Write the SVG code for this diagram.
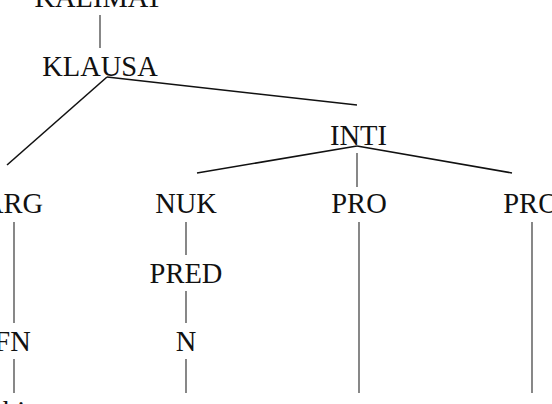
<svg xmlns="http://www.w3.org/2000/svg" width="552" height="404" viewBox="0 0 552 404">
<style>
text{font-family:"Liberation Serif","Times New Roman",serif;font-size:28.5px;fill:#111;text-anchor:middle}
.d{stroke:#111;stroke-width:1.6;fill:none}
.v{stroke:#555;stroke-width:1.4;fill:none}
</style>
<rect width="552" height="404" fill="#fff"/>
<g id="connectors">
<line class="v" x1="100" y1="15" x2="100" y2="48"/>
<line class="d" x1="107" y1="77" x2="7" y2="165"/>
<line class="d" x1="107" y1="77" x2="357" y2="105"/>
<line class="d" x1="357" y1="146" x2="197" y2="173"/>
<line class="d" x1="357" y1="146" x2="512" y2="173"/>
<line class="v" x1="357" y1="153" x2="357" y2="187"/>
<line class="v" x1="14" y1="222" x2="14" y2="323"/>
<line class="v" x1="186" y1="222" x2="186" y2="255"/>
<line class="v" x1="186" y1="291" x2="186" y2="323"/>
<line class="v" x1="14" y1="359" x2="14" y2="393"/>
<line class="v" x1="186" y1="359" x2="186" y2="393"/>
<line class="v" x1="359" y1="222" x2="359" y2="393"/>
<line class="v" x1="532" y1="222" x2="532" y2="393"/>
</g>
<g id="kalimat"><text x="98.5" y="7">KALIMAT</text></g>
<g id="klausa"><text x="100" y="76">KLAUSA</text></g>
<g id="inti"><text x="358.5" y="145">INTI</text></g>
<g id="arg"><text x="13" y="213">ARG</text></g>
<g id="nuk"><text x="186" y="213">NUK</text></g>
<g id="pro1"><text x="359" y="213">PRO</text></g>
<g id="pro2"><text x="531" y="213">PRO</text></g>
<g id="pred"><text x="186" y="283">PRED</text></g>
<g id="fn"><text x="12.5" y="351">FN</text></g>
<g id="n"><text x="186" y="351">N</text></g>
<g id="bi"><text x="3" y="421" style="text-anchor:start">bi</text></g>
</svg>
